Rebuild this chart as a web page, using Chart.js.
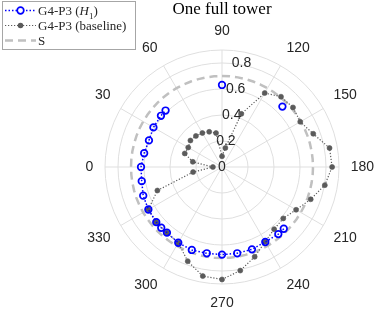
<!DOCTYPE html>
<html>
<head>
<meta charset="utf-8">
<script src="https://cdn.jsdelivr.net/npm/chart.js@4.4.0/dist/chart.umd.min.js"></script>
<style>
  html, body { margin: 0; background: #fff; overflow: hidden; }
  #wrap { position: relative; width: 374px; height: 311px; overflow: hidden; }
  #polarChart { position: absolute; left: 0; top: 0; }
  #title { position: absolute; left: 222px; top: 0; transform: translateX(-50%); font: 17px "Liberation Serif", serif; line-height: 18px; white-space: nowrap; color: #000; }
  #legend { position: absolute; left: 2px; top: 1px; width: 132px; height: 47px; border: 1px solid #a6a6a6; background: #fff; font: 13px "Liberation Serif", serif; color: #262626; }
  .row { position: relative; height: 15px; line-height: 15px; white-space: nowrap; }
  .row:first-child { margin-top: 0.5px; }
  .row svg { position: absolute; left: 2px; top: 0; }
  .row span { position: absolute; left: 35px; top: 0; }
  .row sub { font-size: 9px; line-height: 0; }
</style>
</head>
<body>
<div id="wrap">
  <!-- canvas is wider than the view so the 180 label fits without Chart.js shifting the centre -->
  <canvas id="polarChart" width="410" height="311"></canvas>
  <div id="title">One full tower</div>
  <div id="legend">
    <div class="row">
      <svg width="34" height="15"><line x1="0" y1="7.5" x2="31" y2="7.5" stroke="#0000ff" stroke-width="1.5" stroke-dasharray="1.5 2"/><circle cx="15.5" cy="7.5" r="3.3" fill="#fff" stroke="#0000ff" stroke-width="1.7"/></svg>
      <span>G4-P3 (<i>H</i><sub>1</sub>)</span>
    </div>
    <div class="row">
      <svg width="34" height="15"><line x1="0" y1="7.5" x2="31" y2="7.5" stroke="#5b5b5b" stroke-width="1.2" stroke-dasharray="1.2 1.8"/><circle cx="15.5" cy="7.5" r="2.8" fill="#5b5b5b"/></svg>
      <span>G4-P3 (baseline)</span>
    </div>
    <div class="row">
      <svg width="34" height="15"><line x1="0" y1="7.5" x2="31" y2="7.5" stroke="#c0c0c0" stroke-width="2.5" stroke-dasharray="8 5"/></svg>
      <span>S</span>
    </div>
  </div>
</div>
<script>
// angle ticks (deg, clockwise from the left) and radial ticks
var thetaTicks = [0, 30, 60, 90, 120, 150, 180, 210, 240, 270, 300, 330];
var rTicks = [0, 0.2, 0.4, 0.6, 0.8];
var rMax = 0.9;

// G4-P3 (H1): connected arc
var h1Theta = [225, 230, 240, 250, 260, 270, 280, 290, 300, 310, 315, 320, 330, 340, 350, 0, 10, 20, 30, 40, 45];
var h1R = [0.672, 0.674, 0.666, 0.674, 0.674, 0.674, 0.674, 0.679, 0.673, 0.659, 0.661, 0.66, 0.654, 0.645, 0.627, 0.623, 0.608, 0.598, 0.609, 0.613, 0.614];
// G4-P3 (H1): single points
var h1SoloTheta = [90, 135];
var h1SoloR = [0.631, 0.657];

// G4-P3 (baseline)
var baseTheta = [0, 10, 20, 30, 40, 50, 60, 70, 80, 90, 100, 110, 120, 130, 140, 150, 160, 170,
                 180, 190, 200, 210, 220, 230, 240, 250, 260, 270, 280, 290, 300, 310, 320, 330, 340, 350];
var baseR = [0.07, 0.228, 0.305, 0.30, 0.317, 0.312, 0.302, 0.288, 0.265, 0.083, 0.149, 0.435, 0.657, 0.706, 0.713, 0.695, 0.747, 0.84,
             0.847, 0.803, 0.726, 0.658, 0.615, 0.624, 0.664, 0.735, 0.809, 0.865, 0.852, 0.771, 0.673, 0.66, 0.66, 0.654, 0.529, 0.226];

// S
var sRadius = 0.7;

var textColor = '#262626';
var gridColor = '#dfdfdf';

// radar spokes every 5 deg, first spoke (top) is 90
var thetaStep = 5;
var labels = [];
for (var k = 0; k < 360 / thetaStep; k++) {
    labels.push((90 + k * thetaStep) % 360);
}

function onGrid(thetas, rs) {
    var out = labels.map(function() { return null; });
    thetas.forEach(function(t, i) {
        out[labels.indexOf(t)] = rs[i];
    });
    return out;
}

// radar lines always close; keep the arcs open
var openArcs = {
    id: 'openArcs',
    afterDatasetUpdate: function(chart, args) {
        if (chart.data.datasets[args.index].openEnds) {
            var line = args.meta.dataset;
            line._loop = false;
            delete line._segments;
            delete line._path;
        }
    }
};

var h1Points = {
    pointRadius: 3.3,
    pointBorderWidth: 1.7,
    pointBorderColor: '#0000ff',
    pointBackgroundColor: 'rgba(0,0,0,0)'
};

var ctx = document.getElementById('polarChart').getContext('2d');
var polarChart = new Chart(ctx, {
    type: 'radar',
    data: {
        labels: labels,
        datasets: [
            Object.assign({
                label: 'G4-P3 (H1)',
                data: onGrid(h1Theta, h1R),
                openEnds: true,
                spanGaps: true,
                fill: false,
                borderColor: '#0000ff',
                borderWidth: 1.5,
                borderDash: [1.5, 2]
            }, h1Points),
            Object.assign({
                label: 'G4-P3 (H1) single',
                data: onGrid(h1SoloTheta, h1SoloR),
                showLine: false,
                fill: false
            }, h1Points),
            {
                label: 'G4-P3 (baseline)',
                data: onGrid(baseTheta, baseR),
                spanGaps: true,
                fill: false,
                borderColor: '#5b5b5b',
                borderWidth: 1.2,
                borderDash: [1.2, 1.8],
                pointRadius: 2.5,
                pointBorderWidth: 0.6,
                pointBorderColor: '#5b5b5b',
                pointBackgroundColor: '#5b5b5b'
            },
            {
                label: 'S',
                data: labels.map(function() { return sRadius; }),
                fill: false,
                borderColor: '#c0c0c0',
                borderWidth: 2.5,
                borderDash: [8, 5],
                pointRadius: 0
            }
        ]
    },
    options: {
        responsive: false,
        animation: false,
        devicePixelRatio: 1,
        events: [],
        layout: {
            padding: { left: 34, right: 0, top: 24.25, bottom: 0 }
        },
        scales: {
            r: {
                min: -0.000001,
                max: rMax,
                startAngle: 0,
                afterBuildTicks: function(scale) {
                    scale.ticks = rTicks.concat([rMax]).map(function(v) { return { value: v }; });
                },
                grid: {
                    circular: true,
                    lineWidth: 1,
                    color: function(c) { return c.index === 0 ? 'rgba(0,0,0,0)' : gridColor; }
                },
                angleLines: {
                    color: gridColor,
                    lineWidth: function(c) { return c.label === '' ? 0 : 1; }
                },
                ticks: {
                    showLabelBackdrop: false,
                    backdropPadding: 0,
                    color: textColor,
                    font: { family: 'Liberation Sans', size: 14 },
                    callback: function(value) {
                        if (value === rMax) return '';
                        // nudge labels off the vertical spoke
                        return ' '.repeat(Math.round(value * 12.2)) + value;
                    }
                },
                pointLabels: {
                    padding: 4.75,
                    color: textColor,
                    font: { family: 'Liberation Sans', size: 14, lineHeight: 1 },
                    callback: function(label) {
                        return thetaTicks.indexOf(label) >= 0 ? String(label) : '';
                    }
                }
            }
        },
        plugins: {
            legend: { display: false },
            tooltip: { enabled: false }
        }
    },
    plugins: [openArcs]
});
</script>
</body>
</html>
